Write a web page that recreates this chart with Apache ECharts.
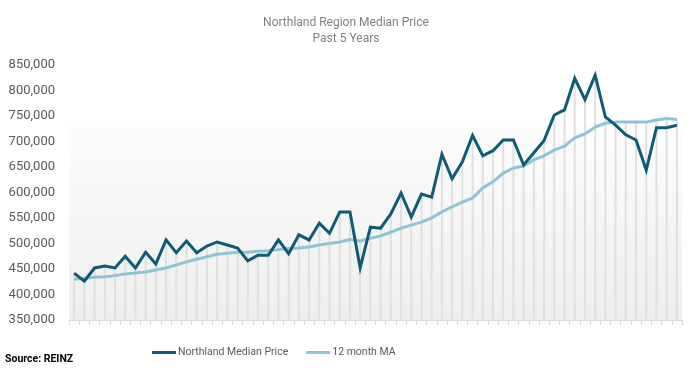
<!DOCTYPE html>
<html>
<head>
<meta charset="utf-8">
<script src="https://cdn.jsdelivr.net/npm/echarts@6/dist/echarts.min.js"></script>
<style>html,body{margin:0;padding:0;background:#fff}#c{width:692px;height:371px}</style>
</head>
<body>
<div id="c"></div>
<script>
var categories = [
  '2018-06','2018-07','2018-08','2018-09','2018-10','2018-11','2018-12',
  '2019-01','2019-02','2019-03','2019-04','2019-05','2019-06','2019-07','2019-08','2019-09','2019-10','2019-11','2019-12',
  '2020-01','2020-02','2020-03','2020-04','2020-05','2020-06','2020-07','2020-08','2020-09','2020-10','2020-11','2020-12',
  '2021-01','2021-02','2021-03','2021-04','2021-05','2021-06','2021-07','2021-08','2021-09','2021-10','2021-11','2021-12',
  '2022-01','2022-02','2022-03','2022-04','2022-05','2022-06','2022-07','2022-08','2022-09','2022-10','2022-11','2022-12',
  '2023-01','2023-02','2023-03','2023-04','2023-05'
];
var medianPrice = [
  442000,426000,452000,456000,452000,475000,452000,483000,460000,507000,
  482000,505000,482000,495000,503000,497000,491000,466000,477000,477000,
  507000,480000,517000,507000,540000,520000,562000,562000,452000,532000,
  530000,558000,599000,552000,597000,591000,675000,627000,660000,712000,
  672000,682000,703000,703000,654000,678000,702000,752000,762000,824000,
  782000,830000,748000,732000,713000,703000,644000,727000,727000,732000
];
var movingAvg = [
  430000,432000,434000,435000,437000,440000,442000,444000,448000,452000,
  458000,464000,469000,474000,479000,481000,483000,483000,485000,486000,
  488000,490000,491000,493000,497000,500000,503000,508000,505000,510000,
  515000,522000,530000,536000,542000,550000,562000,572000,581000,589000,
  609000,621000,638000,648000,652000,664000,672000,683000,691000,707000,
  715000,728000,736000,738000,738000,738000,738000,742000,745000,743000
];
var yTicks = [350000,400000,450000,500000,550000,600000,650000,700000,750000,800000,850000];

var dropLines = medianPrice.map(function(v, i){ return Math.max(v, movingAvg[i]); });

var chart = echarts.init(document.getElementById('c'), null, {renderer:'canvas'});
chart.setOption({
  animation: false,
  backgroundColor: '#ffffff',
  title: [{
    text: 'Northland Region Median Price\nPast 5 Years',
    left: 'center', top: 10,
    textStyle: {color:'#7f7f7f', fontSize:12, fontWeight:'normal', fontFamily:'Roboto', lineHeight:16}
  },{
    text: 'Source: REINZ',
    left: 5, top: 354, padding: 0,
    textStyle: {color:'#000', fontSize:10.5, fontWeight:'bold', fontFamily:'Roboto'}
  }],
  legend: {
    data: ['Northland Median Price','12 month MA'],
    top: 347, left: 152, padding: 0,
    itemWidth: 24, itemHeight: 3, itemGap: 18,
    icon: 'rect',
    textStyle: {color:'#595959', fontSize:10.5, fontFamily:'Roboto', padding:[0,0,0,-3]}
  },
  grid: {left:69, right:10, top:65, bottom:51},
  xAxis: {
    type: 'category', data: categories, boundaryGap: true,
    axisLine: {lineStyle:{color:'#d9d9d9', width:1}},
    axisTick: {show:true, interval:0, inside:false, length:5, lineStyle:{color:'#d9d9d9'}},
    axisLabel: {show:false, interval:0},
    splitLine: {show:false}
  },
  yAxis: {
    type: 'value', min: yTicks[0], max: yTicks[yTicks.length-1], interval: 50000,
    axisLine: {show:false}, axisTick: {show:false}, splitLine: {show:false},
    axisLabel: {
      color:'#595959', fontSize:13, fontFamily:'Roboto', margin:14,
      formatter: function(v){ return v.toLocaleString('en-US'); }
    }
  },
  series: [{
    name: 'drop', type: 'bar', data: dropLines, barWidth: 2, silent: true,
    itemStyle: {color:'#e0e0e0'},
    markArea: {
      silent: true,
      itemStyle: {color: new echarts.graphic.LinearGradient(0,0,0,1,[{offset:0,color:'#fdfdfd'},{offset:1,color:'#eeeeee'}])},
      data: [[{yAxis: 738000}, {yAxis: 350000}]]
    },
    z: 1
  },{
    name: '12 month MA', type: 'line', data: movingAvg,
    showSymbol: false, symbol: 'none',
    lineStyle: {color:'#8ec5d6', width:3},
    itemStyle: {color:'#8ec5d6'},
    z: 3
  },{
    name: 'Northland Median Price', type: 'line', data: medianPrice,
    showSymbol: false, symbol: 'none',
    lineStyle: {color:'#0f5a75', width:3, join:'miter'},
    itemStyle: {color:'#0f5a75'},
    z: 4
  }]
});
</script>
</body>
</html>
